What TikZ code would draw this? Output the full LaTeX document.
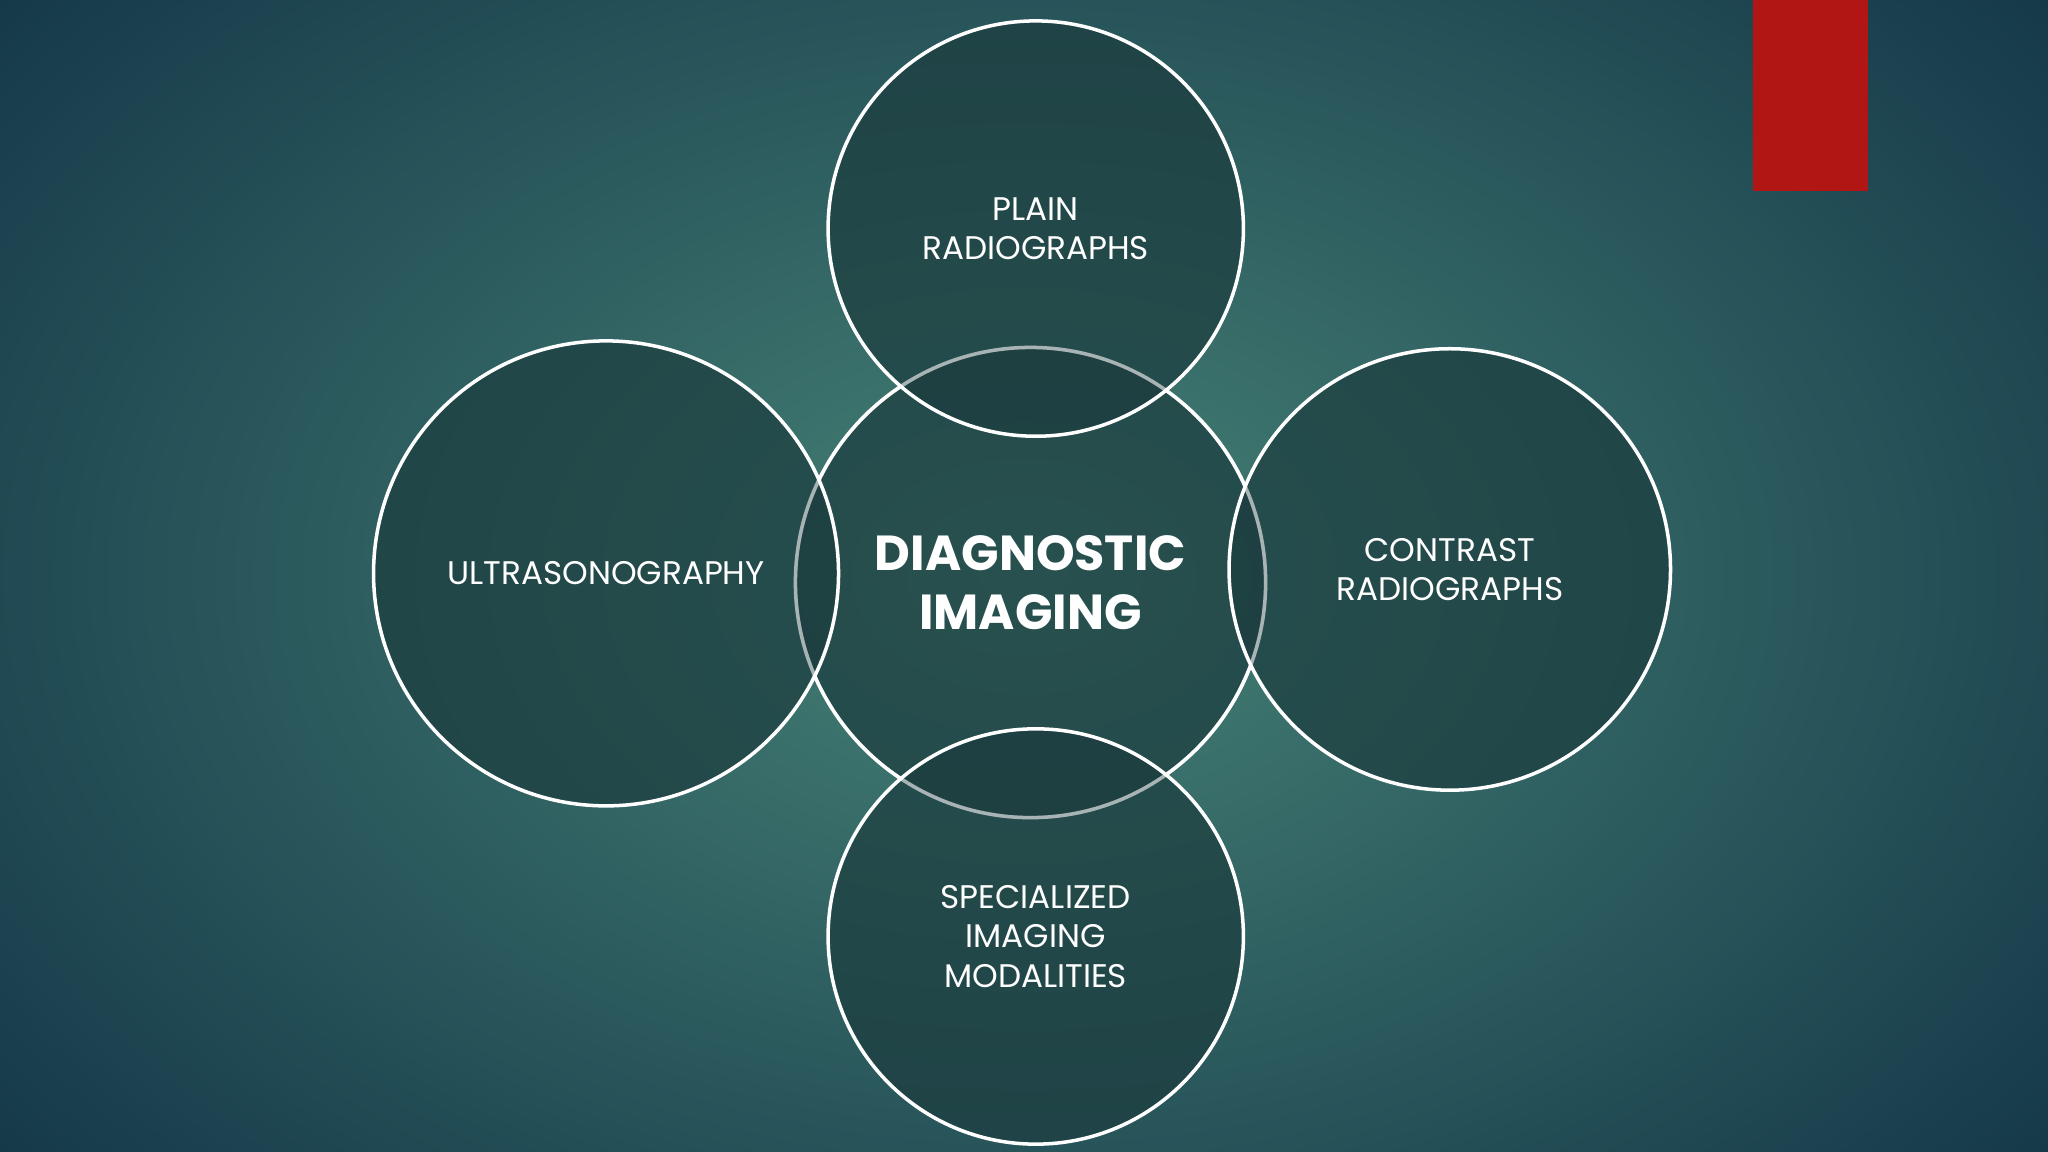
\documentclass[tikz,border=0pt]{standalone}
\usepackage{fontspec}
\setmainfont{Poppins}
\begin{document}
\begin{tikzpicture}[x=0.01306cm,y=-0.01306cm,
  ring/.style={circle,draw=white,line width=1pt,fill=circfill,fill opacity=0.7,text opacity=1,text=white,align=center,font=\fontsize{9.3}{11.3}\selectfont,inner sep=0pt}]
\definecolor{circfill}{HTML}{1C3C3E}
\useasboundingbox (0,0) rectangle (1568,882);
\shade[inner color={rgb,255:red,70;green,130;blue,118},outer color={rgb,255:red,18;green,52;blue,70}] (-300,-300) rectangle (1868,1182);
\fill[fill={rgb,255:red,178;green,22;blue,20}] (1342,0) rectangle (1430,146);
\node[ring,minimum size={360*0.01306cm}] (c) at (789,446) {};
\node[ring,minimum size={318*0.01306cm}] (t) at (793,175) {PLAIN\\RADIOGRAPHS};
\node[ring,minimum size={318*0.01306cm}] (b) at (793,717) {SPECIALIZED\\IMAGING\\MODALITIES};
\node[ring,minimum size={356*0.01306cm}] (l) at (464,439) {ULTRASONOGRAPHY};
\node[ring,minimum size={338*0.01306cm}] (r) at (1110,436) {CONTRAST\\RADIOGRAPHS};
\draw[white,opacity=0.45,line width=1pt] (c) circle[radius=180];
\node[text=white,align=center,font=\bfseries\fontsize{14}{17}\selectfont] (title) at (789,446) {DIAGNOSTIC\\IMAGING};
\end{tikzpicture}
\end{document}
